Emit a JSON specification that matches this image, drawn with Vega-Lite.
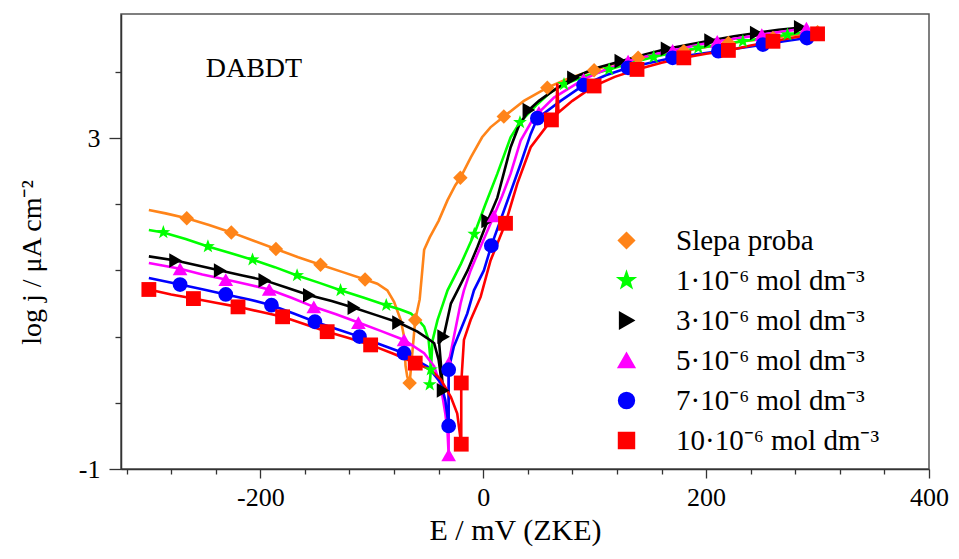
{
  "$schema": "https://vega.github.io/schema/vega-lite/v6.json",
  "width": 808,
  "height": 455,
  "autosize": {"type": "none"},
  "padding": {"left": 121, "top": 14, "right": 30, "bottom": 90},
  "background": "white",
  "config": {
    "font": "Liberation Serif",
    "view": {"stroke": "#555", "strokeWidth": 1.5},
    "axis": {"grid": false, "domainColor": "#333", "domainWidth": 1.5, "tickColor": "#333", "tickWidth": 1.3, "labelFont": "Liberation Serif", "labelFontSize": 26, "labelColor": "#000", "titleFont": "Liberation Serif", "titleFontSize": 28, "titleFontWeight": "normal", "titleColor": "#000", "labelOverlap": false, "labelFlush": false, "labelBound": false}
  },
  "datasets": {
    "lines": [
      {"s":"Slepa proba","i":0,"E":-300,"j":2.13},{"s":"Slepa proba","i":1,"E":-285,"j":2.09},{"s":"Slepa proba","i":2,"E":-266,"j":2.03},{"s":"Slepa proba","i":3,"E":-246,"j":1.95},{"s":"Slepa proba","i":4,"E":-226,"j":1.86},{"s":"Slepa proba","i":5,"E":-206,"j":1.76},{"s":"Slepa proba","i":6,"E":-186,"j":1.66},{"s":"Slepa proba","i":7,"E":-166,"j":1.56},{"s":"Slepa proba","i":8,"E":-146,"j":1.47},{"s":"Slepa proba","i":9,"E":-126,"j":1.38},{"s":"Slepa proba","i":10,"E":-106,"j":1.29},{"s":"Slepa proba","i":11,"E":-95,"j":1.24},{"s":"Slepa proba","i":12,"E":-86,"j":1.16},{"s":"Slepa proba","i":13,"E":-80,"j":1.02},{"s":"Slepa proba","i":14,"E":-74,"j":0.8},{"s":"Slepa proba","i":15,"E":-71,"j":0.6},{"s":"Slepa proba","i":16,"E":-69.7,"j":0.25},{"s":"Slepa proba","i":17,"E":-68.2,"j":0.12},{"s":"Slepa proba","i":18,"E":-66,"j":0.04},{"s":"Slepa proba","i":19,"E":-61,"j":0.8},{"s":"Slepa proba","i":20,"E":-57,"j":1.05},{"s":"Slepa proba","i":21,"E":-55,"j":1.35},{"s":"Slepa proba","i":22,"E":-53,"j":1.65},{"s":"Slepa proba","i":23,"E":-48,"j":1.8},{"s":"Slepa proba","i":24,"E":-40,"j":2.0},{"s":"Slepa proba","i":25,"E":-32,"j":2.25},{"s":"Slepa proba","i":26,"E":-25,"j":2.43},{"s":"Slepa proba","i":27,"E":-20.5,"j":2.52},{"s":"Slepa proba","i":28,"E":-11,"j":2.77},{"s":"Slepa proba","i":29,"E":-1,"j":3.01},{"s":"Slepa proba","i":30,"E":6.5,"j":3.13},{"s":"Slepa proba","i":31,"E":18.5,"j":3.26},{"s":"Slepa proba","i":32,"E":36.5,"j":3.45},{"s":"Slepa proba","i":33,"E":57.5,"j":3.61},{"s":"Slepa proba","i":34,"E":78,"j":3.73},{"s":"Slepa proba","i":35,"E":99.5,"j":3.82},{"s":"Slepa proba","i":36,"E":120,"j":3.91},{"s":"Slepa proba","i":37,"E":139,"j":3.97},{"s":"Slepa proba","i":38,"E":160,"j":4.01},{"s":"Slepa proba","i":39,"E":180,"j":4.05},{"s":"Slepa proba","i":40,"E":200,"j":4.1},{"s":"Slepa proba","i":41,"E":220,"j":4.15},{"s":"Slepa proba","i":42,"E":240,"j":4.18},{"s":"Slepa proba","i":43,"E":260,"j":4.21},{"s":"Slepa proba","i":44,"E":280,"j":4.25},{"s":"Slepa proba","i":45,"E":300,"j":4.28},

      {"s":"1·10⁻⁶ mol dm⁻³","i":0,"E":-300,"j":1.89},{"s":"1·10⁻⁶ mol dm⁻³","i":1,"E":-287,"j":1.86},{"s":"1·10⁻⁶ mol dm⁻³","i":2,"E":-267,"j":1.78},{"s":"1·10⁻⁶ mol dm⁻³","i":3,"E":-247,"j":1.69},{"s":"1·10⁻⁶ mol dm⁻³","i":4,"E":-227,"j":1.61},{"s":"1·10⁻⁶ mol dm⁻³","i":5,"E":-207,"j":1.53},{"s":"1·10⁻⁶ mol dm⁻³","i":6,"E":-187,"j":1.44},{"s":"1·10⁻⁶ mol dm⁻³","i":7,"E":-167,"j":1.34},{"s":"1·10⁻⁶ mol dm⁻³","i":8,"E":-147,"j":1.25},{"s":"1·10⁻⁶ mol dm⁻³","i":9,"E":-128,"j":1.16},{"s":"1·10⁻⁶ mol dm⁻³","i":10,"E":-107,"j":1.07},{"s":"1·10⁻⁶ mol dm⁻³","i":11,"E":-87,"j":0.98},{"s":"1·10⁻⁶ mol dm⁻³","i":12,"E":-75,"j":0.93},{"s":"1·10⁻⁶ mol dm⁻³","i":13,"E":-65,"j":0.88},{"s":"1·10⁻⁶ mol dm⁻³","i":14,"E":-58,"j":0.8},{"s":"1·10⁻⁶ mol dm⁻³","i":15,"E":-53,"j":0.72},{"s":"1·10⁻⁶ mol dm⁻³","i":16,"E":-49,"j":0.56},{"s":"1·10⁻⁶ mol dm⁻³","i":17,"E":-47.5,"j":0.35},{"s":"1·10⁻⁶ mol dm⁻³","i":18,"E":-47,"j":0.2},{"s":"1·10⁻⁶ mol dm⁻³","i":19,"E":-48,"j":0.02},{"s":"1·10⁻⁶ mol dm⁻³","i":20,"E":-46.5,"j":0.3},{"s":"1·10⁻⁶ mol dm⁻³","i":21,"E":-45.5,"j":0.55},{"s":"1·10⁻⁶ mol dm⁻³","i":22,"E":-41,"j":0.8},{"s":"1·10⁻⁶ mol dm⁻³","i":23,"E":-36,"j":1.0},{"s":"1·10⁻⁶ mol dm⁻³","i":24,"E":-32,"j":1.16},{"s":"1·10⁻⁶ mol dm⁻³","i":25,"E":-20,"j":1.48},{"s":"1·10⁻⁶ mol dm⁻³","i":26,"E":-8,"j":1.84},{"s":"1·10⁻⁶ mol dm⁻³","i":27,"E":2,"j":2.2},{"s":"1·10⁻⁶ mol dm⁻³","i":28,"E":12.7,"j":2.57},{"s":"1·10⁻⁶ mol dm⁻³","i":29,"E":24.6,"j":3.01},{"s":"1·10⁻⁶ mol dm⁻³","i":30,"E":33,"j":3.19},{"s":"1·10⁻⁶ mol dm⁻³","i":31,"E":48.6,"j":3.41},{"s":"1·10⁻⁶ mol dm⁻³","i":32,"E":60,"j":3.55},{"s":"1·10⁻⁶ mol dm⁻³","i":33,"E":72.5,"j":3.65},{"s":"1·10⁻⁶ mol dm⁻³","i":34,"E":92,"j":3.75},{"s":"1·10⁻⁶ mol dm⁻³","i":35,"E":113,"j":3.83},{"s":"1·10⁻⁶ mol dm⁻³","i":36,"E":133,"j":3.91},{"s":"1·10⁻⁶ mol dm⁻³","i":37,"E":153,"j":3.98},{"s":"1·10⁻⁶ mol dm⁻³","i":38,"E":173,"j":4.04},{"s":"1·10⁻⁶ mol dm⁻³","i":39,"E":193,"j":4.09},{"s":"1·10⁻⁶ mol dm⁻³","i":40,"E":213,"j":4.13},{"s":"1·10⁻⁶ mol dm⁻³","i":41,"E":233,"j":4.17},{"s":"1·10⁻⁶ mol dm⁻³","i":42,"E":253,"j":4.21},{"s":"1·10⁻⁶ mol dm⁻³","i":43,"E":273,"j":4.25},{"s":"1·10⁻⁶ mol dm⁻³","i":44,"E":300,"j":4.3},

      {"s":"3·10⁻⁶ mol dm⁻³","i":0,"E":-300,"j":1.57},{"s":"3·10⁻⁶ mol dm⁻³","i":1,"E":-276,"j":1.52},{"s":"3·10⁻⁶ mol dm⁻³","i":2,"E":-256,"j":1.46},{"s":"3·10⁻⁶ mol dm⁻³","i":3,"E":-236,"j":1.4},{"s":"3·10⁻⁶ mol dm⁻³","i":4,"E":-216,"j":1.34},{"s":"3·10⁻⁶ mol dm⁻³","i":5,"E":-196,"j":1.28},{"s":"3·10⁻⁶ mol dm⁻³","i":6,"E":-176,"j":1.19},{"s":"3·10⁻⁶ mol dm⁻³","i":7,"E":-156,"j":1.1},{"s":"3·10⁻⁶ mol dm⁻³","i":8,"E":-136,"j":1.03},{"s":"3·10⁻⁶ mol dm⁻³","i":9,"E":-116,"j":0.95},{"s":"3·10⁻⁶ mol dm⁻³","i":10,"E":-96,"j":0.86},{"s":"3·10⁻⁶ mol dm⁻³","i":11,"E":-76,"j":0.77},{"s":"3·10⁻⁶ mol dm⁻³","i":12,"E":-59,"j":0.66},{"s":"3·10⁻⁶ mol dm⁻³","i":13,"E":-50,"j":0.58},{"s":"3·10⁻⁶ mol dm⁻³","i":14,"E":-44,"j":0.52},{"s":"3·10⁻⁶ mol dm⁻³","i":15,"E":-40,"j":0.32},{"s":"3·10⁻⁶ mol dm⁻³","i":16,"E":-38,"j":0.12},{"s":"3·10⁻⁶ mol dm⁻³","i":17,"E":-36,"j":-0.05},{"s":"3·10⁻⁶ mol dm⁻³","i":18,"E":-39.5,"j":0.52},{"s":"3·10⁻⁶ mol dm⁻³","i":19,"E":-35.5,"j":0.6},{"s":"3·10⁻⁶ mol dm⁻³","i":20,"E":-29,"j":1.0},{"s":"3·10⁻⁶ mol dm⁻³","i":21,"E":-23,"j":1.16},{"s":"3·10⁻⁶ mol dm⁻³","i":22,"E":-14,"j":1.4},{"s":"3·10⁻⁶ mol dm⁻³","i":23,"E":-5.3,"j":1.68},{"s":"3·10⁻⁶ mol dm⁻³","i":24,"E":4,"j":2.0},{"s":"3·10⁻⁶ mol dm⁻³","i":25,"E":12.7,"j":2.28},{"s":"3·10⁻⁶ mol dm⁻³","i":26,"E":24.6,"j":2.89},{"s":"3·10⁻⁶ mol dm⁻³","i":27,"E":32,"j":3.15},{"s":"3·10⁻⁶ mol dm⁻³","i":28,"E":41,"j":3.34},{"s":"3·10⁻⁶ mol dm⁻³","i":29,"E":50,"j":3.45},{"s":"3·10⁻⁶ mol dm⁻³","i":30,"E":63.5,"j":3.58},{"s":"3·10⁻⁶ mol dm⁻³","i":31,"E":81,"j":3.73},{"s":"3·10⁻⁶ mol dm⁻³","i":32,"E":100,"j":3.84},{"s":"3·10⁻⁶ mol dm⁻³","i":33,"E":123.5,"j":3.93},{"s":"3·10⁻⁶ mol dm⁻³","i":34,"E":145,"j":4.01},{"s":"3·10⁻⁶ mol dm⁻³","i":35,"E":165,"j":4.08},{"s":"3·10⁻⁶ mol dm⁻³","i":36,"E":185,"j":4.13},{"s":"3·10⁻⁶ mol dm⁻³","i":37,"E":204,"j":4.18},{"s":"3·10⁻⁶ mol dm⁻³","i":38,"E":225,"j":4.23},{"s":"3·10⁻⁶ mol dm⁻³","i":39,"E":245,"j":4.27},{"s":"3·10⁻⁶ mol dm⁻³","i":40,"E":265,"j":4.31},{"s":"3·10⁻⁶ mol dm⁻³","i":41,"E":288,"j":4.34},

      {"s":"5·10⁻⁶ mol dm⁻³","i":0,"E":-300,"j":1.49},{"s":"5·10⁻⁶ mol dm⁻³","i":1,"E":-272,"j":1.42},{"s":"5·10⁻⁶ mol dm⁻³","i":2,"E":-252,"j":1.35},{"s":"5·10⁻⁶ mol dm⁻³","i":3,"E":-231,"j":1.29},{"s":"5·10⁻⁶ mol dm⁻³","i":4,"E":-211,"j":1.23},{"s":"5·10⁻⁶ mol dm⁻³","i":5,"E":-192,"j":1.17},{"s":"5·10⁻⁶ mol dm⁻³","i":6,"E":-172,"j":1.07},{"s":"5·10⁻⁶ mol dm⁻³","i":7,"E":-152,"j":0.96},{"s":"5·10⁻⁶ mol dm⁻³","i":8,"E":-132,"j":0.87},{"s":"5·10⁻⁶ mol dm⁻³","i":9,"E":-112,"j":0.77},{"s":"5·10⁻⁶ mol dm⁻³","i":10,"E":-92,"j":0.67},{"s":"5·10⁻⁶ mol dm⁻³","i":11,"E":-71,"j":0.56},{"s":"5·10⁻⁶ mol dm⁻³","i":12,"E":-53,"j":0.4},{"s":"5·10⁻⁶ mol dm⁻³","i":13,"E":-44,"j":0.24},{"s":"5·10⁻⁶ mol dm⁻³","i":14,"E":-38,"j":0.0},{"s":"5·10⁻⁶ mol dm⁻³","i":15,"E":-34,"j":-0.33},{"s":"5·10⁻⁶ mol dm⁻³","i":16,"E":-32,"j":-0.55},{"s":"5·10⁻⁶ mol dm⁻³","i":17,"E":-31,"j":-0.83},{"s":"5·10⁻⁶ mol dm⁻³","i":18,"E":-31,"j":0.28},{"s":"5·10⁻⁶ mol dm⁻³","i":19,"E":-26.3,"j":0.6},{"s":"5·10⁻⁶ mol dm⁻³","i":20,"E":-20.3,"j":1.0},{"s":"5·10⁻⁶ mol dm⁻³","i":21,"E":-17.3,"j":1.16},{"s":"5·10⁻⁶ mol dm⁻³","i":22,"E":-11.3,"j":1.4},{"s":"5·10⁻⁶ mol dm⁻³","i":23,"E":-2,"j":1.7},{"s":"5·10⁻⁶ mol dm⁻³","i":24,"E":9.6,"j":2.06},{"s":"5·10⁻⁶ mol dm⁻³","i":25,"E":17,"j":2.3},{"s":"5·10⁻⁶ mol dm⁻³","i":26,"E":24.6,"j":2.57},{"s":"5·10⁻⁶ mol dm⁻³","i":27,"E":33.6,"j":2.97},{"s":"5·10⁻⁶ mol dm⁻³","i":28,"E":45.5,"j":3.25},{"s":"5·10⁻⁶ mol dm⁻³","i":29,"E":63.5,"j":3.49},{"s":"5·10⁻⁶ mol dm⁻³","i":30,"E":90,"j":3.71},{"s":"5·10⁻⁶ mol dm⁻³","i":31,"E":110,"j":3.83},{"s":"5·10⁻⁶ mol dm⁻³","i":32,"E":130,"j":3.93},{"s":"5·10⁻⁶ mol dm⁻³","i":33,"E":150,"j":4.0},{"s":"5·10⁻⁶ mol dm⁻³","i":34,"E":170,"j":4.06},{"s":"5·10⁻⁶ mol dm⁻³","i":35,"E":190,"j":4.12},{"s":"5·10⁻⁶ mol dm⁻³","i":36,"E":210,"j":4.17},{"s":"5·10⁻⁶ mol dm⁻³","i":37,"E":230,"j":4.21},{"s":"5·10⁻⁶ mol dm⁻³","i":38,"E":250,"j":4.25},{"s":"5·10⁻⁶ mol dm⁻³","i":39,"E":270,"j":4.29},{"s":"5·10⁻⁶ mol dm⁻³","i":40,"E":292,"j":4.33},

      {"s":"7·10⁻⁶ mol dm⁻³","i":0,"E":-300,"j":1.31},{"s":"7·10⁻⁶ mol dm⁻³","i":1,"E":-272,"j":1.23},{"s":"7·10⁻⁶ mol dm⁻³","i":2,"E":-251,"j":1.17},{"s":"7·10⁻⁶ mol dm⁻³","i":3,"E":-231,"j":1.11},{"s":"7·10⁻⁶ mol dm⁻³","i":4,"E":-210,"j":1.05},{"s":"7·10⁻⁶ mol dm⁻³","i":5,"E":-190,"j":0.98},{"s":"7·10⁻⁶ mol dm⁻³","i":6,"E":-170,"j":0.88},{"s":"7·10⁻⁶ mol dm⁻³","i":7,"E":-151,"j":0.78},{"s":"7·10⁻⁶ mol dm⁻³","i":8,"E":-131,"j":0.69},{"s":"7·10⁻⁶ mol dm⁻³","i":9,"E":-111,"j":0.6},{"s":"7·10⁻⁶ mol dm⁻³","i":10,"E":-91,"j":0.5},{"s":"7·10⁻⁶ mol dm⁻³","i":11,"E":-71,"j":0.4},{"s":"7·10⁻⁶ mol dm⁻³","i":12,"E":-50,"j":0.24},{"s":"7·10⁻⁶ mol dm⁻³","i":13,"E":-38,"j":0.04},{"s":"7·10⁻⁶ mol dm⁻³","i":14,"E":-34,"j":-0.17},{"s":"7·10⁻⁶ mol dm⁻³","i":15,"E":-31,"j":-0.48},{"s":"7·10⁻⁶ mol dm⁻³","i":16,"E":-31,"j":0.2},{"s":"7·10⁻⁶ mol dm⁻³","i":17,"E":-26.3,"j":0.48},{"s":"7·10⁻⁶ mol dm⁻³","i":18,"E":-14.3,"j":0.88},{"s":"7·10⁻⁶ mol dm⁻³","i":19,"E":-8.3,"j":1.16},{"s":"7·10⁻⁶ mol dm⁻³","i":20,"E":0.6,"j":1.4},{"s":"7·10⁻⁶ mol dm⁻³","i":21,"E":7.3,"j":1.7},{"s":"7·10⁻⁶ mol dm⁻³","i":22,"E":21.7,"j":2.24},{"s":"7·10⁻⁶ mol dm⁻³","i":23,"E":33.6,"j":2.69},{"s":"7·10⁻⁶ mol dm⁻³","i":24,"E":42.6,"j":3.05},{"s":"7·10⁻⁶ mol dm⁻³","i":25,"E":48.6,"j":3.24},{"s":"7·10⁻⁶ mol dm⁻³","i":26,"E":69.5,"j":3.45},{"s":"7·10⁻⁶ mol dm⁻³","i":27,"E":90,"j":3.64},{"s":"7·10⁻⁶ mol dm⁻³","i":28,"E":110,"j":3.76},{"s":"7·10⁻⁶ mol dm⁻³","i":29,"E":130,"j":3.85},{"s":"7·10⁻⁶ mol dm⁻³","i":30,"E":150,"j":3.91},{"s":"7·10⁻⁶ mol dm⁻³","i":31,"E":170,"j":3.97},{"s":"7·10⁻⁶ mol dm⁻³","i":32,"E":190,"j":4.01},{"s":"7·10⁻⁶ mol dm⁻³","i":33,"E":211,"j":4.05},{"s":"7·10⁻⁶ mol dm⁻³","i":34,"E":231,"j":4.09},{"s":"7·10⁻⁶ mol dm⁻³","i":35,"E":251,"j":4.13},{"s":"7·10⁻⁶ mol dm⁻³","i":36,"E":270,"j":4.17},{"s":"7·10⁻⁶ mol dm⁻³","i":37,"E":290.5,"j":4.21},{"s":"7·10⁻⁶ mol dm⁻³","i":38,"E":295,"j":4.22},

      {"s":"10·10⁻⁶ mol dm⁻³","i":0,"E":-300,"j":1.17},{"s":"10·10⁻⁶ mol dm⁻³","i":1,"E":-280,"j":1.11},{"s":"10·10⁻⁶ mol dm⁻³","i":2,"E":-260,"j":1.06},{"s":"10·10⁻⁶ mol dm⁻³","i":3,"E":-240,"j":1.01},{"s":"10·10⁻⁶ mol dm⁻³","i":4,"E":-220,"j":0.96},{"s":"10·10⁻⁶ mol dm⁻³","i":5,"E":-200,"j":0.9},{"s":"10·10⁻⁶ mol dm⁻³","i":6,"E":-180,"j":0.84},{"s":"10·10⁻⁶ mol dm⁻³","i":7,"E":-160,"j":0.75},{"s":"10·10⁻⁶ mol dm⁻³","i":8,"E":-140,"j":0.66},{"s":"10·10⁻⁶ mol dm⁻³","i":9,"E":-120,"j":0.58},{"s":"10·10⁻⁶ mol dm⁻³","i":10,"E":-101,"j":0.5},{"s":"10·10⁻⁶ mol dm⁻³","i":11,"E":-80,"j":0.39},{"s":"10·10⁻⁶ mol dm⁻³","i":12,"E":-61,"j":0.28},{"s":"10·10⁻⁶ mol dm⁻³","i":13,"E":-47,"j":0.2},{"s":"10·10⁻⁶ mol dm⁻³","i":14,"E":-38,"j":0.08},{"s":"10·10⁻⁶ mol dm⁻³","i":15,"E":-29,"j":-0.13},{"s":"10·10⁻⁶ mol dm⁻³","i":16,"E":-23.3,"j":-0.33},{"s":"10·10⁻⁶ mol dm⁻³","i":17,"E":-21,"j":-0.57},{"s":"10·10⁻⁶ mol dm⁻³","i":18,"E":-19.7,"j":-0.7},{"s":"10·10⁻⁶ mol dm⁻³","i":19,"E":-19.7,"j":0.04},{"s":"10·10⁻⁶ mol dm⁻³","i":20,"E":-17.3,"j":0.56},{"s":"10·10⁻⁶ mol dm⁻³","i":21,"E":-11.3,"j":0.8},{"s":"10·10⁻⁶ mol dm⁻³","i":22,"E":-2.3,"j":1.08},{"s":"10·10⁻⁶ mol dm⁻³","i":23,"E":6.6,"j":1.52},{"s":"10·10⁻⁶ mol dm⁻³","i":24,"E":20,"j":1.97},{"s":"10·10⁻⁶ mol dm⁻³","i":25,"E":30.6,"j":2.45},{"s":"10·10⁻⁶ mol dm⁻³","i":26,"E":42.6,"j":2.89},{"s":"10·10⁻⁶ mol dm⁻³","i":27,"E":61.2,"j":3.22},{"s":"10·10⁻⁶ mol dm⁻³","i":28,"E":65.5,"j":3.28},{"s":"10·10⁻⁶ mol dm⁻³","i":29,"E":66.5,"j":3.66},{"s":"10·10⁻⁶ mol dm⁻³","i":30,"E":67.5,"j":3.31},{"s":"10·10⁻⁶ mol dm⁻³","i":31,"E":80,"j":3.45},{"s":"10·10⁻⁶ mol dm⁻³","i":32,"E":99.5,"j":3.63},{"s":"10·10⁻⁶ mol dm⁻³","i":33,"E":118,"j":3.74},{"s":"10·10⁻⁶ mol dm⁻³","i":34,"E":138,"j":3.83},{"s":"10·10⁻⁶ mol dm⁻³","i":35,"E":160,"j":3.91},{"s":"10·10⁻⁶ mol dm⁻³","i":36,"E":180,"j":3.97},{"s":"10·10⁻⁶ mol dm⁻³","i":37,"E":200,"j":4.02},{"s":"10·10⁻⁶ mol dm⁻³","i":38,"E":220,"j":4.06},{"s":"10·10⁻⁶ mol dm⁻³","i":39,"E":240,"j":4.12},{"s":"10·10⁻⁶ mol dm⁻³","i":40,"E":260,"j":4.17},{"s":"10·10⁻⁶ mol dm⁻³","i":41,"E":280,"j":4.22},{"s":"10·10⁻⁶ mol dm⁻³","i":42,"E":300,"j":4.26}
    ],
    "marks": [
      {"s":"Slepa proba","E":-266,"j":2.03},{"s":"Slepa proba","E":-226,"j":1.86},{"s":"Slepa proba","E":-186,"j":1.66},{"s":"Slepa proba","E":-146,"j":1.47},{"s":"Slepa proba","E":-106,"j":1.29},{"s":"Slepa proba","E":-66,"j":0.04},{"s":"Slepa proba","E":-61,"j":0.8},{"s":"Slepa proba","E":-20.5,"j":2.52},{"s":"Slepa proba","E":18.5,"j":3.26},{"s":"Slepa proba","E":57.5,"j":3.61},{"s":"Slepa proba","E":99.5,"j":3.82},{"s":"Slepa proba","E":139,"j":3.97},{"s":"Slepa proba","E":180,"j":4.05},{"s":"Slepa proba","E":220,"j":4.15},{"s":"Slepa proba","E":260,"j":4.21},{"s":"Slepa proba","E":300,"j":4.28},
      {"s":"1·10⁻⁶ mol dm⁻³","E":-287,"j":1.86},{"s":"1·10⁻⁶ mol dm⁻³","E":-247,"j":1.69},{"s":"1·10⁻⁶ mol dm⁻³","E":-207,"j":1.53},{"s":"1·10⁻⁶ mol dm⁻³","E":-167,"j":1.34},{"s":"1·10⁻⁶ mol dm⁻³","E":-128,"j":1.16},{"s":"1·10⁻⁶ mol dm⁻³","E":-87,"j":0.98},{"s":"1·10⁻⁶ mol dm⁻³","E":-47,"j":0.2},{"s":"1·10⁻⁶ mol dm⁻³","E":-48,"j":0.02},{"s":"1·10⁻⁶ mol dm⁻³","E":-8,"j":1.84},{"s":"1·10⁻⁶ mol dm⁻³","E":33,"j":3.19},{"s":"1·10⁻⁶ mol dm⁻³","E":72.5,"j":3.65},{"s":"1·10⁻⁶ mol dm⁻³","E":113,"j":3.83},{"s":"1·10⁻⁶ mol dm⁻³","E":153,"j":3.98},{"s":"1·10⁻⁶ mol dm⁻³","E":193,"j":4.09},{"s":"1·10⁻⁶ mol dm⁻³","E":233,"j":4.17},{"s":"1·10⁻⁶ mol dm⁻³","E":273,"j":4.25},
      {"s":"3·10⁻⁶ mol dm⁻³","E":-276,"j":1.52},{"s":"3·10⁻⁶ mol dm⁻³","E":-236,"j":1.4},{"s":"3·10⁻⁶ mol dm⁻³","E":-196,"j":1.28},{"s":"3·10⁻⁶ mol dm⁻³","E":-156,"j":1.1},{"s":"3·10⁻⁶ mol dm⁻³","E":-116,"j":0.95},{"s":"3·10⁻⁶ mol dm⁻³","E":-76,"j":0.77},{"s":"3·10⁻⁶ mol dm⁻³","E":-36,"j":-0.05},{"s":"3·10⁻⁶ mol dm⁻³","E":-35.5,"j":0.6},{"s":"3·10⁻⁶ mol dm⁻³","E":4,"j":2.0},{"s":"3·10⁻⁶ mol dm⁻³","E":41,"j":3.34},{"s":"3·10⁻⁶ mol dm⁻³","E":81,"j":3.73},{"s":"3·10⁻⁶ mol dm⁻³","E":123.5,"j":3.93},{"s":"3·10⁻⁶ mol dm⁻³","E":165,"j":4.08},{"s":"3·10⁻⁶ mol dm⁻³","E":204,"j":4.18},{"s":"3·10⁻⁶ mol dm⁻³","E":245,"j":4.27},{"s":"3·10⁻⁶ mol dm⁻³","E":284.5,"j":4.34},
      {"s":"5·10⁻⁶ mol dm⁻³","E":-272,"j":1.42},{"s":"5·10⁻⁶ mol dm⁻³","E":-231,"j":1.29},{"s":"5·10⁻⁶ mol dm⁻³","E":-192,"j":1.17},{"s":"5·10⁻⁶ mol dm⁻³","E":-152,"j":0.96},{"s":"5·10⁻⁶ mol dm⁻³","E":-112,"j":0.77},{"s":"5·10⁻⁶ mol dm⁻³","E":-71,"j":0.56},{"s":"5·10⁻⁶ mol dm⁻³","E":-31,"j":-0.83},{"s":"5·10⁻⁶ mol dm⁻³","E":-31,"j":0.28},{"s":"5·10⁻⁶ mol dm⁻³","E":9.6,"j":2.06},{"s":"5·10⁻⁶ mol dm⁻³","E":50,"j":3.31},{"s":"5·10⁻⁶ mol dm⁻³","E":90,"j":3.71},{"s":"5·10⁻⁶ mol dm⁻³","E":130,"j":3.93},{"s":"5·10⁻⁶ mol dm⁻³","E":170,"j":4.06},{"s":"5·10⁻⁶ mol dm⁻³","E":210,"j":4.17},{"s":"5·10⁻⁶ mol dm⁻³","E":250,"j":4.25},{"s":"5·10⁻⁶ mol dm⁻³","E":290,"j":4.33},
      {"s":"7·10⁻⁶ mol dm⁻³","E":-272,"j":1.23},{"s":"7·10⁻⁶ mol dm⁻³","E":-231,"j":1.11},{"s":"7·10⁻⁶ mol dm⁻³","E":-190,"j":0.98},{"s":"7·10⁻⁶ mol dm⁻³","E":-151,"j":0.78},{"s":"7·10⁻⁶ mol dm⁻³","E":-111,"j":0.6},{"s":"7·10⁻⁶ mol dm⁻³","E":-71,"j":0.4},{"s":"7·10⁻⁶ mol dm⁻³","E":-31,"j":-0.48},{"s":"7·10⁻⁶ mol dm⁻³","E":-31,"j":0.2},{"s":"7·10⁻⁶ mol dm⁻³","E":7.3,"j":1.7},{"s":"7·10⁻⁶ mol dm⁻³","E":48.6,"j":3.24},{"s":"7·10⁻⁶ mol dm⁻³","E":90,"j":3.64},{"s":"7·10⁻⁶ mol dm⁻³","E":130,"j":3.85},{"s":"7·10⁻⁶ mol dm⁻³","E":170,"j":3.97},{"s":"7·10⁻⁶ mol dm⁻³","E":211,"j":4.05},{"s":"7·10⁻⁶ mol dm⁻³","E":251,"j":4.13},{"s":"7·10⁻⁶ mol dm⁻³","E":290.5,"j":4.21},
      {"s":"10·10⁻⁶ mol dm⁻³","E":-300,"j":1.17},{"s":"10·10⁻⁶ mol dm⁻³","E":-260,"j":1.06},{"s":"10·10⁻⁶ mol dm⁻³","E":-220,"j":0.96},{"s":"10·10⁻⁶ mol dm⁻³","E":-180,"j":0.84},{"s":"10·10⁻⁶ mol dm⁻³","E":-140,"j":0.66},{"s":"10·10⁻⁶ mol dm⁻³","E":-101,"j":0.5},{"s":"10·10⁻⁶ mol dm⁻³","E":-61,"j":0.28},{"s":"10·10⁻⁶ mol dm⁻³","E":-19.7,"j":-0.7},{"s":"10·10⁻⁶ mol dm⁻³","E":-19.7,"j":0.04},{"s":"10·10⁻⁶ mol dm⁻³","E":20,"j":1.97},{"s":"10·10⁻⁶ mol dm⁻³","E":61.2,"j":3.22},{"s":"10·10⁻⁶ mol dm⁻³","E":99.5,"j":3.63},{"s":"10·10⁻⁶ mol dm⁻³","E":138,"j":3.83},{"s":"10·10⁻⁶ mol dm⁻³","E":180,"j":3.97},{"s":"10·10⁻⁶ mol dm⁻³","E":220,"j":4.06},{"s":"10·10⁻⁶ mol dm⁻³","E":260,"j":4.17},{"s":"10·10⁻⁶ mol dm⁻³","E":300,"j":4.26}
    ],
    "note": [{"t": "DABDT", "E": -249, "j": 3.74}]
  },
  "layer": [
    {
      "data": {"name": "lines"},
      "mark": {"type": "line", "strokeWidth": 2.6, "clip": true},
      "encoding": {
        "x": {"field": "E", "type": "quantitative", "scale": {"domain": [-325, 400], "nice": false, "zero": false},
          "axis": {"values": [-320,-300,-280,-260,-240,-220,-200,-180,-160,-140,-120,-100,-80,-60,-40,-20,0,20,40,60,80,100,120,140,160,180,200,220,240,260,280,300,320,340,360,380,400],
            "labelExpr": "datum.value % 100 === 0 ? toString(datum.value) : ''",
            "labelOverlap": false,
            "tickSize": {"condition": {"test": "datum.value % 100 === 0", "value": 9}, "value": 5},
            "labelPadding": 6, "title": "E / mV (ZKE)", "titleFontSize": 30, "titleX": 394, "titleY": 70, "titleBaseline": "alphabetic", "titleAlign": "center"}},
        "y": {"field": "j", "type": "quantitative", "scale": {"domain": [-1, 4.5], "nice": false, "zero": false},
          "axis": {"values": [-1,-0.8,-0.6,-0.4,-0.2,0,0.2,0.4,0.6,0.8,1,1.2,1.4,1.6,1.8,2,2.2,2.4,2.6,2.8,3,3.2,3.4,3.6,3.8,4,4.2,4.4],
            "labelExpr": "abs(datum.value - round(datum.value)) < 0.001 ? toString(round(datum.value)) : ''",
            "labelOverlap": false,
            "tickSize": {"condition": {"test": "abs(datum.value - round(datum.value)) < 0.001", "value": 12}, "value": 6},
            "labelPadding": 9, "title": "log j / μA cm⁻²", "titleX": -75, "titleY": 248, "titleAngle": -90, "titleAlign": "center", "titleBaseline": "bottom"}},
        "color": {"field": "s", "type": "nominal",
          "scale": {"domain": ["Slepa proba","1·10⁻⁶ mol dm⁻³","3·10⁻⁶ mol dm⁻³","5·10⁻⁶ mol dm⁻³","7·10⁻⁶ mol dm⁻³","10·10⁻⁶ mol dm⁻³"], "range": ["#FF8419","#00FF00","#000000","#FF00FF","#0000FF","#FF0000"]},
          "legend": {"orient": "none", "legendX": 459, "legendY": 212, "title": null, "labelFont": "Liberation Serif", "labelFontSize": 29, "labelColor": "#000", "labelLimit": 400, "symbolSize": 256, "symbolOffset": 32, "labelOffset": 35, "rowPadding": 10, "padding": 0,
            "encode": {"symbols": {"update": {
              "shape": {"signal": "datum.index === 0 ? 'M-5.1,0H-2.3M2.1,0H5.2M0,-0.7L1.15,0L0,0.7L-1.15,0Z' : datum.index === 1 ? 'M-5.1,0H-2.3M2.1,0H5.2M0,-1L0.26,-0.32L0.95,-0.3L0.41,0.12L0.6,0.8L0,0.4L-0.6,0.8L-0.41,0.12L-0.95,-0.3L-0.26,-0.32Z' : datum.index === 2 ? 'M-5.1,0H-2.3M2.1,0H5.2M-0.95,-0.75L0.95,0L-0.95,0.75Z' : datum.index === 3 ? 'M-5.1,0H-2.3M2.1,0H5.2M0,-0.75L1.15,0.75L-1.15,0.75Z' : datum.index === 4 ? 'M-5.1,0H-2.3M2.1,0H5.2M-0.9,0L-0.64,-0.46L0,-0.65L0.64,-0.46L0.9,0L0.64,0.46L0,0.65L-0.64,0.46Z' : 'M-5.1,0H-2.3M2.1,0H5.2M-0.8,-0.65H0.8V0.65H-0.8Z'"},
              "fill": {"scale": "color", "field": "value"},
              "stroke": {"scale": "color", "field": "value"},
              "strokeWidth": {"value": 2.6},
              "opacity": {"value": 1}
            }}}}},
        "order": {"field": "i", "type": "quantitative"}
      }
    },
    {
      "data": {"name": "marks"},
      "mark": {"type": "point", "filled": true, "opacity": 1, "strokeWidth": 0},
      "encoding": {
        "x": {"field": "E", "type": "quantitative"},
        "y": {"field": "j", "type": "quantitative"},
        "fill": {"field": "s", "type": "nominal",
          "scale": {"domain": ["Slepa proba","1·10⁻⁶ mol dm⁻³","3·10⁻⁶ mol dm⁻³","5·10⁻⁶ mol dm⁻³","7·10⁻⁶ mol dm⁻³","10·10⁻⁶ mol dm⁻³"], "range": ["#FF8419","#00FF00","#000000","#FF00FF","#0000FF","#FF0000"]},
          "legend": null},
        "shape": {"field": "s", "type": "nominal",
          "scale": {"domain": ["Slepa proba","1·10⁻⁶ mol dm⁻³","3·10⁻⁶ mol dm⁻³","5·10⁻⁶ mol dm⁻³","7·10⁻⁶ mol dm⁻³","10·10⁻⁶ mol dm⁻³"], "range": ["diamond","M0,-1L0.24,-0.33L0.95,-0.31L0.38,0.12L0.59,0.81L0,0.4L-0.59,0.81L-0.38,0.12L-0.95,-0.31L-0.24,-0.33Z","triangle-right","triangle-up","circle","square"]},
          "legend": null},
        "size": {"field": "s", "type": "nominal",
          "scale": {"domain": ["Slepa proba","1·10⁻⁶ mol dm⁻³","3·10⁻⁶ mol dm⁻³","5·10⁻⁶ mol dm⁻³","7·10⁻⁶ mol dm⁻³","10·10⁻⁶ mol dm⁻³"], "range": [210, 220, 170, 170, 130, 130]},
          "legend": null}
      }
    },
    {
      "data": {"name": "note"},
      "mark": {"type": "text", "font": "Liberation Serif", "fontSize": 28, "align": "left", "baseline": "alphabetic", "color": "#000"},
      "encoding": {
        "x": {"field": "E", "type": "quantitative"},
        "y": {"field": "j", "type": "quantitative"},
        "text": {"field": "t"}
      }
    }
  ]
}
